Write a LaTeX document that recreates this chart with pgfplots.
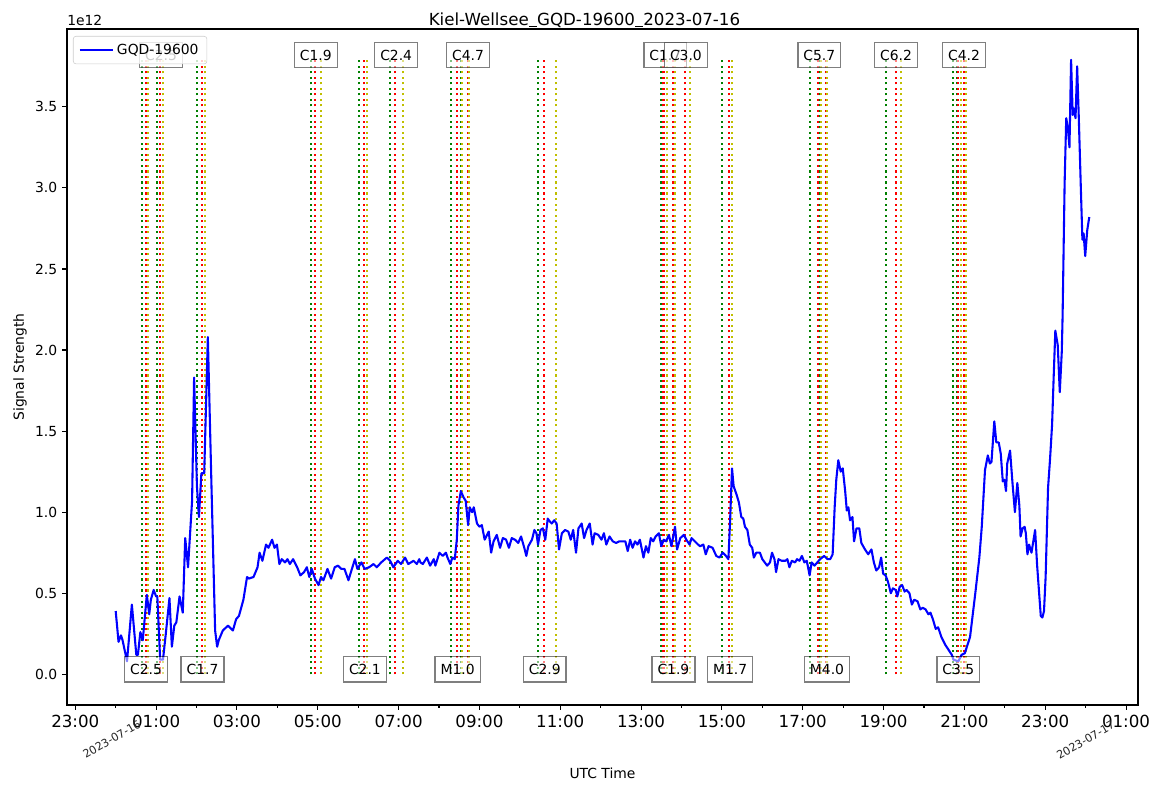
\documentclass[border=0pt]{standalone}
\usepackage{pgfplots}
\pgfplotsset{compat=1.18}
\usepackage{fontspec}
\setmainfont{DejaVu Sans}
\definecolor{mplgreen}{rgb}{0,0.5,0}
\definecolor{mplyellow}{rgb}{0.75,0.75,0}
\newcommand{\us}{\rule[-0.12em]{0.5em}{0.07em}}
\tikzset{flarebox/.style={draw=black, draw opacity=0.5, fill=white, fill opacity=0.5, text opacity=1, line width=1pt, inner xsep=4pt, inner ysep=0pt, minimum height=18.3pt, font=\fontsize{10}{12}\selectfont, anchor=center}}
\begin{document}
\fontsize{10}{12}\selectfont
\begin{tikzpicture}
\useasboundingbox (0,0) rectangle (841.68pt,570.24pt);
\begin{axis}[
  at={(48.24pt,62.64pt)}, anchor=south west,
  scale only axis, width=771.1pt, height=486.7pt,
  xmin=-1.205, xmax=25.295, ymin=-0.1895, ymax=3.98,
  axis line style={line width=0.8pt},
  every tick/.style={black, line width=0.8pt},
  major tick length=3.5pt, minor tick length=2pt,
  tick align=outside, xtick pos=lower, ytick pos=left,
  xtick={-1,1,...,25},
  xticklabels={23:00,01:00,03:00,05:00,07:00,09:00,11:00,13:00,15:00,17:00,19:00,21:00,23:00,01:00},
  minor xtick={0,2,...,24},
  ytick={0,0.5,...,3.5},
  /pgf/number format/assume math mode=true,
  /pgf/number format/fixed, /pgf/number format/fixed zerofill, /pgf/number format/precision=1,
  xticklabel style={font=\fontsize{12}{14}\selectfont},
  yticklabel style={font=\fontsize{10}{12}\selectfont},
  legend style={at={(axis description cs:0,1)}, anchor=north west, xshift=4.3pt, yshift=-5pt, draw=black!20, rounded corners=2pt, fill=white, fill opacity=0.8, text opacity=1, font=\fontsize{10}{12}\selectfont, inner xsep=4pt, inner ysep=3.5pt},
  legend image code/.code={\draw[#1] (0pt,0pt) -- (20pt,0pt); \path (0pt,0pt) -- (24pt,0pt);},
]
% flare lines: start (green), peak (red), end (yellow)
\addplot[ycomb, no marks, mplgreen, line width=1.5pt, dash pattern=on 1.5pt off 2.47pt, forget plot] coordinates {
(0.651,3.79)(1.022,3.79)(2.011,3.79)(4.832,3.79)(6.019,3.79)(6.786,3.79)(8.295,3.79)(8.543,3.79)(10.455,3.79)(13.491,3.79)(13.541,3.79)(13.634,3.79)(15.007,3.79)(17.185,3.79)(17.432,3.79)(19.065,3.79)(20.715,3.79)(20.81,3.79)};
\addplot[ycomb, no marks, red, line width=1.5pt, dash pattern=on 1.5pt off 2.47pt, forget plot] coordinates {
(0.757,3.79)(1.086,3.79)(2.135,3.79)(4.938,3.79)(6.150,3.79)(6.917,3.79)(8.444,3.79)(8.716,3.79)(10.603,3.79)(13.555,3.79)(13.803,3.79)(14.092,3.79)(15.180,3.79)(17.383,3.79)(17.580,3.79)(19.313,3.79)(20.846,3.79)(20.995,3.79)};
\addplot[ycomb, no marks, mplyellow, line width=1.5pt, dash pattern=on 1.5pt off 2.47pt, forget plot] coordinates {
(0.799,3.79)(1.170,3.79)(2.217,3.79)(5.079,3.79)(6.217,3.79)(7.108,3.79)(8.56,3.79)(8.75,3.79)(10.893,3.79)(13.640,3.79)(13.845,3.79)(14.216,3.79)(15.247,3.79)(17.449,3.79)(17.60,3.79)(19.436,3.79)(20.92,3.79)(21.04,3.79)};
% signal
\addplot[blue, line width=1.5pt, line join=round, no marks] coordinates {
(0.00,0.39)(0.07,0.20)(0.13,0.24)(0.17,0.21)(0.28,0.08)(0.40,0.43)(0.51,0.12)(0.55,0.12)(0.61,0.26)(0.67,0.21)(0.77,0.49)(0.83,0.37)(0.87,0.46)(0.94,0.52)(1.00,0.48)(1.03,0.48)(1.10,0.09)(1.17,0.09)(1.24,0.25)(1.33,0.47)(1.39,0.17)(1.45,0.30)(1.50,0.32)(1.58,0.48)(1.66,0.38)(1.72,0.84)(1.79,0.66)(1.89,1.07)(1.94,1.83)(2.01,1.16)(2.06,0.97)(2.12,1.24)(2.19,1.24)(2.28,2.08)(2.37,1.16)(2.46,0.27)(2.51,0.17)(2.55,0.21)(2.65,0.27)(2.78,0.30)(2.90,0.27)(2.98,0.34)(3.05,0.36)(3.16,0.46)(3.25,0.60)(3.29,0.59)(3.41,0.60)(3.51,0.66)(3.56,0.75)(3.63,0.70)(3.72,0.80)(3.78,0.78)(3.87,0.83)(3.93,0.78)(3.99,0.80)(4.05,0.68)(4.11,0.71)(4.19,0.69)(4.25,0.71)(4.31,0.68)(4.39,0.71)(4.49,0.66)(4.57,0.61)(4.66,0.63)(4.73,0.66)(4.79,0.60)(4.85,0.65)(4.93,0.59)(5.02,0.55)(5.08,0.60)(5.14,0.58)(5.24,0.65)(5.33,0.59)(5.42,0.66)(5.50,0.67)(5.58,0.65)(5.66,0.65)(5.76,0.58)(5.82,0.63)(5.92,0.71)(5.98,0.65)(6.08,0.69)(6.16,0.65)(6.27,0.66)(6.38,0.68)(6.46,0.66)(6.57,0.69)(6.71,0.72)(6.79,0.70)(6.87,0.66)(6.98,0.70)(7.06,0.68)(7.16,0.72)(7.24,0.68)(7.37,0.70)(7.45,0.68)(7.51,0.71)
(7.54,0.69)(7.60,0.68)(7.70,0.72)(7.78,0.67)(7.87,0.71)(7.91,0.67)(8.01,0.75)(8.09,0.73)(8.17,0.75)(8.21,0.72)(8.28,0.68)(8.33,0.72)(8.39,0.71)(8.44,0.83)(8.48,1.04)(8.54,1.13)(8.61,1.09)(8.66,1.07)(8.72,0.92)(8.76,1.03)(8.82,1.00)(8.86,1.03)(8.94,0.93)(9.00,0.91)(9.06,0.92)(9.13,0.83)(9.23,0.88)(9.29,0.75)(9.35,0.82)(9.43,0.86)(9.51,0.78)(9.58,0.84)(9.66,0.83)(9.73,0.78)(9.80,0.84)(9.88,0.83)(9.96,0.81)(10.03,0.85)(10.11,0.78)(10.16,0.73)(10.21,0.79)(10.30,0.83)(10.36,0.89)(10.41,0.87)(10.45,0.80)(10.51,0.89)(10.57,0.90)(10.63,0.83)(10.69,0.96)(10.75,0.94)(10.79,0.93)(10.85,0.95)(10.91,0.93)(10.97,0.77)(11.04,0.87)(11.12,0.89)(11.20,0.88)(11.26,0.83)(11.32,0.89)(11.39,0.75)(11.45,0.90)(11.53,0.93)(11.59,0.84)(11.65,0.89)(11.73,0.93)(11.80,0.80)(11.85,0.87)(11.94,0.86)(12.02,0.83)(12.08,0.87)(12.14,0.80)(12.22,0.85)(12.30,0.82)(12.38,0.81)(12.46,0.82)(12.55,0.82)(12.61,0.82)(12.67,0.76)(12.73,0.83)(12.79,0.78)(12.85,0.82)(12.91,0.80)(12.97,0.83)(13.06,0.72)(13.12,0.79)(13.18,0.75)(13.24,0.84)(13.30,0.82)(13.36,0.85)(13.44,0.87)(13.50,0.79)(13.56,0.83)(13.62,0.82)(13.69,0.86)(13.75,0.79)(13.84,0.91)(13.89,0.77)(13.97,0.84)(14.06,0.86)(14.12,0.83)(14.20,0.80)(14.25,0.84)(14.33,0.82)(14.41,0.80)
(14.46,0.79)(14.54,0.80)(14.60,0.74)(14.67,0.79)(14.77,0.78)(14.86,0.73)(14.94,0.72)(15.02,0.75)(15.10,0.73)(15.16,0.71)(15.20,0.93)(15.25,1.27)(15.29,1.16)(15.36,1.11)(15.42,1.06)(15.48,0.97)(15.53,0.96)(15.57,0.91)(15.63,0.89)(15.69,0.80)(15.75,0.78)(15.79,0.72)(15.85,0.75)(15.94,0.75)(16.00,0.71)(16.06,0.69)(16.12,0.67)(16.19,0.69)(16.24,0.75)(16.30,0.71)(16.34,0.63)(16.40,0.71)(16.48,0.70)(16.57,0.70)(16.62,0.71)(16.67,0.66)(16.73,0.70)(16.81,0.69)(16.86,0.71)(16.92,0.70)(16.98,0.73)(17.04,0.69)(17.10,0.70)(17.17,0.61)(17.22,0.69)(17.29,0.67)(17.36,0.69)(17.43,0.71)(17.53,0.73)(17.61,0.71)(17.68,0.71)(17.74,0.74)(17.79,1.03)(17.83,1.20)(17.88,1.32)(17.94,1.25)(17.99,1.27)(18.05,1.13)(18.09,1.01)(18.13,1.03)(18.17,0.95)(18.23,0.97)(18.27,0.82)(18.33,0.90)(18.40,0.90)(18.45,0.81)(18.54,0.77)(18.62,0.74)(18.70,0.77)(18.76,0.69)(18.82,0.64)(18.89,0.66)(18.94,0.72)(18.99,0.62)(19.05,0.61)(19.11,0.57)(19.18,0.50)(19.23,0.53)(19.30,0.52)(19.34,0.48)(19.40,0.54)(19.46,0.55)(19.52,0.51)(19.57,0.52)(19.64,0.50)(19.70,0.43)(19.76,0.46)(19.84,0.45)(19.91,0.40)(19.97,0.41)(20.04,0.40)(20.11,0.37)(20.16,0.38)(20.22,0.34)(20.29,0.28)(20.35,0.29)(20.43,0.23)(20.53,0.18)(20.61,0.15)(20.69,0.12)
(20.73,0.09)(20.85,0.08)(20.93,0.12)(21.01,0.13)(21.14,0.23)(21.27,0.50)(21.37,0.72)(21.43,0.91)(21.51,1.26)(21.58,1.35)(21.63,1.30)(21.67,1.31)(21.74,1.56)(21.79,1.43)(21.85,1.43)(21.90,1.36)(21.95,1.19)(21.99,1.20)(22.03,1.13)(22.06,1.30)(22.13,1.38)(22.19,1.18)(22.25,1.00)(22.31,1.18)(22.36,1.04)(22.39,0.85)(22.44,0.90)(22.49,0.91)(22.52,0.87)(22.56,0.74)(22.60,0.80)(22.66,0.75)(22.75,0.89)(22.80,0.67)(22.89,0.36)(22.93,0.35)(22.97,0.39)(23.01,0.60)(23.07,1.15)(23.12,1.33)(23.17,1.54)(23.21,1.84)(23.25,2.12)(23.31,2.03)(23.36,1.74)(23.41,1.99)
(23.43,2.21)(23.48,3.03)(23.52,3.43)(23.56,3.37)(23.60,3.25)(23.64,3.79)(23.68,3.45)(23.71,3.49)(23.75,3.43)(23.79,3.75)(23.83,3.44)(23.88,3.01)(23.92,2.68)(23.95,2.72)(23.99,2.58)(24.04,2.74)(24.09,2.82)};
\addlegendentry{GQD-19600}
% flare labels (top)
\node[flarebox] at (axis cs:1.123,3.82) {C2.5};
\node[flarebox] at (axis cs:4.95,3.82) {C1.9};
\node[flarebox] at (axis cs:6.94,3.82) {C2.4};
\node[flarebox] at (axis cs:8.72,3.82) {C4.7};
\node[flarebox] at (axis cs:13.6,3.82) {C1.7};
\node[flarebox] at (axis cs:14.11,3.82) {C3.0};
\node[flarebox] at (axis cs:17.41,3.82) {C5.7};
\node[flarebox] at (axis cs:19.31,3.82) {C6.2};
\node[flarebox] at (axis cs:20.99,3.82) {C4.2};
% flare labels (bottom)
\node[flarebox] at (axis cs:0.75,0.03) {C2.5};
\node[flarebox] at (axis cs:2.15,0.03) {C1.7};
\node[flarebox] at (axis cs:6.167,0.03) {C2.1};
\node[flarebox] at (axis cs:8.46,0.03) {M1.0};
\node[flarebox] at (axis cs:10.616,0.03) {C2.9};
\node[flarebox] at (axis cs:13.80,0.03) {C1.9};
\node[flarebox] at (axis cs:15.205,0.03) {M1.7};
\node[flarebox] at (axis cs:17.60,0.03) {M4.0};
\node[flarebox] at (axis cs:20.85,0.03) {C3.5};
\end{axis}
% date labels
\node[rotate=30, font=\fontsize{8}{10}\selectfont, text=black!85, anchor=center] at (80.5pt,38pt) {2023-07-16};
\node[rotate=30, font=\fontsize{8}{10}\selectfont, text=black!85, anchor=center] at (781.6pt,37.4pt) {2023-07-17};
% offset text
\node[anchor=base west, inner sep=0pt, font=\fontsize{10}{12}\selectfont] at (48.24pt,552.2pt) {1e12};
\node[anchor=base, inner sep=0pt, font=\fontsize{12}{14}\selectfont] at (420.84pt,552.2pt) {Kiel-Wellsee\us GQD-19600\us 2023-07-16};
\node[font=\fontsize{10}{12}\selectfont] at (433.8pt,13.7pt) {UTC Time};
\node[font=\fontsize{10}{12}\selectfont, rotate=90] at (14.4pt,306pt) {Signal Strength};
\end{tikzpicture}
\end{document}
